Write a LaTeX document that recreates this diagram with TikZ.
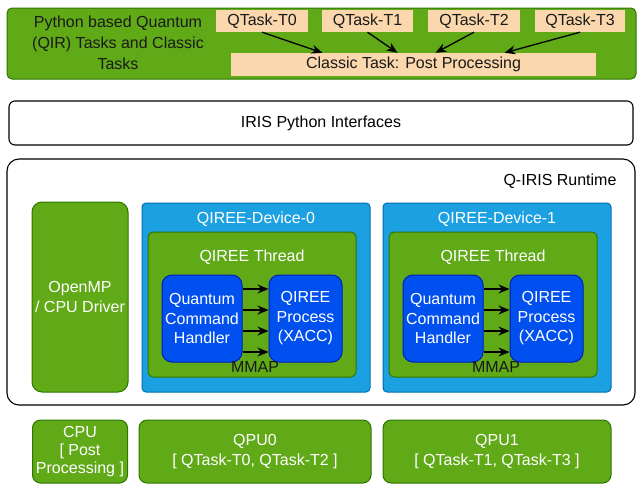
\documentclass[tikz,border=0pt]{standalone}
\usepackage{fontspec}
\setmainfont{Liberation Sans}
\usepackage{xcolor}
\usepackage{tikz}
\usetikzlibrary{arrows.meta,positioning,calc}
\definecolor{qgreen}{HTML}{60A917}
\definecolor{qgreenline}{HTML}{2D7600}
\definecolor{qblue}{HTML}{1BA1E2}
\definecolor{qblueline}{HTML}{006EAF}
\definecolor{qdblue}{HTML}{0050EF}
\definecolor{qdblueline}{HTML}{001DBC}
\definecolor{qpeach}{HTML}{FAD7AC}
\definecolor{qdark}{HTML}{1A1A1A}

\begin{document}
\begin{tikzpicture}[x=1pt,y=-1pt,
	every node/.style={font=\fontsize{16}{19.5}\selectfont,inner sep=0pt,align=center},
	greenbox/.style={draw=qgreenline,line width=1pt,fill=qgreen,text=white,rounded corners=#1},
	greenbox/.default=8,
	devbox/.style={draw=qblueline,line width=1pt,fill=qblue,rounded corners=4},
	procbox/.style={draw=qdblueline,line width=1pt,fill=qdblue,text=white,rounded corners=10},
	taskbox/.style={fill=qpeach,text=qdark},
	plainbox/.style={draw=black,line width=1.1pt,fill=white,rounded corners=#1},
	arr/.style={-{Stealth[length=11pt,width=9pt]},line width=1.3pt}]
		\useasboundingbox (0,0) rectangle (642,493);
		% top row: tasks
		\node[greenbox=5,minimum width=629,minimum height=71] (tasks) at (321.5,43.5) {};
		\node[text=qdark,font=\fontsize{16}{21}\selectfont] (taskstitle) at (118,43) {Python based Quantum\\(QIR) Tasks and Classic\\Tasks};
		\node[taskbox,minimum width=92,minimum height=22] (T0) at (262,21) {QTask-T0};
		\node[taskbox,minimum width=91,minimum height=22] (T1) at (367.5,21) {QTask-T1};
		\node[taskbox,minimum width=92,minimum height=22] (T2) at (474,21) {QTask-T2};
		\node[taskbox,minimum width=90,minimum height=22] (T3) at (580,21) {QTask-T3};
		\node[taskbox,minimum width=365,minimum height=23] (classic) at (413.5,64.5) {Classic Task: Post Processing};
		\draw[arr] (T0.south) -- ([xshift=-91pt]classic.north);
		\draw[arr] (T1.south) -- ([xshift=-16pt]classic.north);
		\draw[arr] (T2.south) -- ([xshift=22pt]classic.north);
		\draw[arr] (T3.south) -- ([xshift=91pt]classic.north);
		% python interfaces
		\node[plainbox=6,minimum width=624,minimum height=44] (iris) at (321,123) {IRIS Python Interfaces};
		% runtime
		\node[plainbox=12,minimum width=628,minimum height=246] (runtime) at (321,282) {};
		\node (runtimetitle) at (560,181) {Q-IRIS Runtime};
		\node[greenbox=10,minimum width=96,minimum height=190] (openmp) at (80,297) {OpenMP\\/ CPU Driver};
		% devices
		\foreach \i/\cx in {0/256,1/497}{
			\node[devbox,minimum width=228,minimum height=189] (dev\i) at (\cx,297.5) {};
			\node[text=white] (devtitle\i) at (\cx,219) {QIREE-Device-\i};
			\node[greenbox=5,minimum width=208,minimum height=145] (thread\i) at (\cx-4,304.5) {};
			\node[text=white] (threadtitle\i) at (\cx-4,257) {QIREE Thread};
			\node[procbox,minimum width=80,minimum height=87] (qch\i) at (\cx-54,318.5) {Quantum\\Command\\Handler};
			\node[procbox,minimum width=73,minimum height=87] (proc\i) at (\cx+49.5,318.5) {QIREE\\Process\\(XACC)};
			\foreach \dy in {29.5,8.5,-12.5,-33.5}
				\draw[arr] ([yshift=\dy pt]qch\i.east) -- ([yshift=\dy pt]proc\i.west);
			\node[text=qdark] (mmap\i) at (\cx-1,367) {MMAP};
		}
		% hardware
		\node[greenbox,minimum width=95,minimum height=63,font=\fontsize{16}{18}\selectfont] (cpu) at (80,451.5) {CPU\\{[} Post\\Processing ]};
		\node[greenbox,minimum width=232,minimum height=63] (qpu0) at (255,451.5) {QPU0\\{[} QTask-T0, QTask-T2 ]};
		\node[greenbox,minimum width=228,minimum height=63] (qpu1) at (497,451.5) {QPU1\\{[} QTask-T1, QTask-T3 ]};
	\end{tikzpicture}
\end{document}
